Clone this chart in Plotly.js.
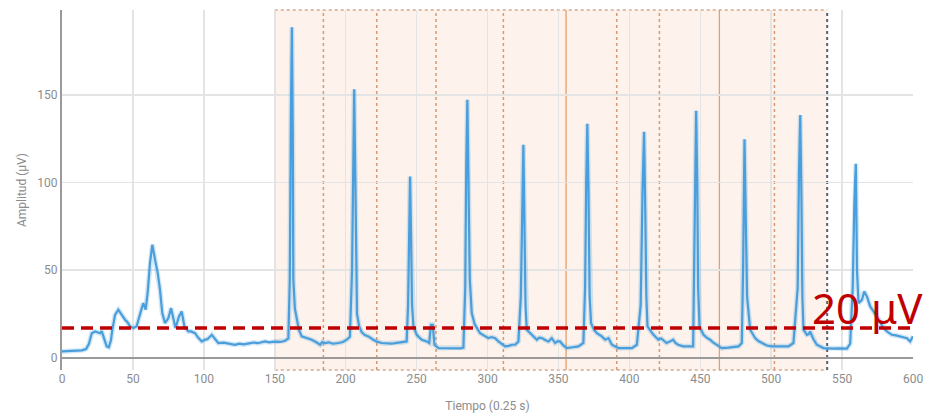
<!DOCTYPE html>
<html>
<head>
<meta charset="utf-8">
<script src="https://cdn.plot.ly/plotly-3.0.1.min.js"></script>
<style>html,body{margin:0;padding:0;background:#fff;}#chart{width:930px;height:418px;}</style>
</head>
<body>
<div id="chart"></div>
<script>
// Signal samples (Tiempo in 0.25 s units, Amplitud in µV)
const tiempo = [0,5,10,14,17,19,21,23.3,25,26.8,28,29.5,31.5,33,34.5,35.5,37.4,39.7,42,44.4,46,48,50.3,52.6,54,55.7,57.3,59,60.5,62,63.7,65.6,67.5,69.1,70.7,72.6,75,76.9,78.8,80,82.5,84.4,86.3,89.1,91,93.8,96,98.5,100.8,102.5,105.6,107.5,110.2,114,118.5,122,125,128,132,135,138,141,143.2,146,150,154,157.3,159.6,160.6,161.4,162.1,162.7,163.1,164.2,165.5,167,169,172,176,179,182,183.5,185.5,188,191,194.9,198,200.8,203,204.5,205.3,206,206.7,207.3,208,209.5,211.4,213.5,216,219.5,222,225.4,229,232.5,236,239.6,243,244,244.7,245.4,246.1,246.8,247.8,250.1,252,253.7,257.2,258.9,259.7,260.2,261.4,262.2,262.6,265.4,270,274,277.2,281,283,284.3,285,285.8,286.6,287.5,288.9,291,294.8,297.5,300.6,303,305.4,307.7,310,312.4,315,317.1,319.5,321.8,323.5,324.5,325.3,326,326.8,327.7,329.5,331.2,334.8,336.5,338.3,341,343,345.3,347.7,349.5,351.2,353.5,355.9,360,364.1,367.6,368.8,369.6,370.4,371.2,372,373,375,377.1,380.6,383,385.3,387.7,390,392.3,397,401.8,405.3,408,409.3,410.4,411.3,412,412.8,415,417,420.5,422.5,424,426.2,428.5,430.9,432.5,434.4,438,441,445,445.5,446.3,447.1,447.9,448.5,449.5,452.3,454.5,457,459,461.7,465.2,470,474,477,479.3,480.2,481.2,482,483,485.2,488.7,491,493.4,497,500.5,506,512.2,515.7,518.7,519.6,520.5,521.3,522,522.8,525.2,526.5,527.5,529.5,532.2,536.9,540,544,548,553.4,555.7,557.5,558.7,559.7,560.5,561.6,564,565.6,567.5,569.8,572.2,575.7,577.5,579.2,581.6,585.1,588,591,595.7,598,600];
const amplitud = [3.6,3.8,3.9,4.2,5,8,14,15,14.5,14,15.2,11,6.5,6,10,16,24.5,27.4,24.5,21.7,20.5,17.9,17,17.9,22,27.4,31.2,27.4,38,54,64.5,56,48.3,38.8,25.5,19.8,22.6,28.3,21.7,17,23.6,26.4,17.9,15,15,14,11.5,9.3,10.3,10.6,13.1,11,8.4,8.6,7.8,7.4,8,7.6,8.2,8.7,8.3,9,9.3,8.8,9.2,9,9.7,11,45,140,188.6,130,44.5,28,21.7,16,12.2,11.5,10.3,9,7.4,9,8.4,8.8,8,8.4,9,10.3,12,50,120,153.3,110,50,25,18,14.5,13,12.2,10.3,9.2,8.4,8.1,8,8.5,8.7,9.3,30,80,103.4,70,30,17.9,13.1,11.5,10.3,9.3,8.4,15,18.8,18.8,10,7.4,5.5,5.4,5.3,5.3,5.4,5.8,40,110,147.2,100,45,25.5,19,14,12.5,11.2,11.8,11.2,9.3,7.8,6.5,6.8,7.4,7.4,9.3,35,90,121.5,80,30,16,14.5,13.1,10.3,11.5,11.2,10,9.3,11.2,8.4,9.5,9.3,7,5.5,6,6.5,8.4,40,100,133.5,95,35,19.8,16,14,12.2,10.3,11.2,7.4,6.2,5.5,5.5,5.5,7.4,30,95,129,80,35,17.9,15,13.1,10.3,11,10,8.4,9.2,10.3,8.5,7.4,6.5,6.4,6.5,40,110,141,100,40,17.9,13.1,11.5,10.3,8.8,7.4,5.5,5.8,6.2,6.5,8.4,50,124.7,85,35,16,11.2,9.5,8.4,7,6.5,6.4,6.5,8.4,40,105,138.6,95,35,16,13.1,13.5,15,11,7.4,5.5,5.3,5.2,5.4,5.2,8,40,90,110.7,50,31.2,33,37.8,35,29.3,26.4,21.7,20,17,15,13.1,12.8,12.2,11.2,9.3,12.2];

// Annotated epoch region and markers
const regionStart = 150;
const regionEnd = 539.5;
const dottedMarks = [184.3, 221.9, 263.7, 311.2, 391.1, 421.2, 502.3];
const solidMarks = [355.4, 463.5];
const threshold = 17;
const thresholdLabel = '20 μV';

const xTicks = [0,50,100,150,200,250,300,350,400,450,500,550,600];
const yTicks = [0,50,100,150];

const shapes = [];
shapes.push({type:'rect', layer:'between', xref:'x', yref:'paper', x0:regionStart, x1:regionEnd, y0:0, y1:1,
  fillcolor:'rgba(248,220,200,0.35)', line:{width:0}});
shapes.push({type:'line', layer:'between', xref:'x', yref:'paper', x0:regionStart, x1:regionEnd, y0:1, y1:1,
  line:{color:'#d6a88c', width:1.5, dash:'dot'}});
shapes.push({type:'line', layer:'between', xref:'x', yref:'paper', x0:regionStart, x1:regionEnd, y0:0, y1:0,
  line:{color:'#d6a88c', width:1.5, dash:'dot'}});
shapes.push({type:'line', layer:'between', xref:'x', yref:'paper', x0:regionStart, x1:regionStart, y0:0, y1:1,
  line:{color:'#d6a88c', width:1.5, dash:'dot'}});
dottedMarks.forEach(v => shapes.push({type:'line', layer:'between', xref:'x', yref:'paper', x0:v, x1:v, y0:0, y1:1,
  line:{color:'#d49a74', width:1.5, dash:'dot'}}));
solidMarks.forEach(v => shapes.push({type:'line', layer:'between', xref:'x', yref:'paper', x0:v, x1:v, y0:0, y1:1,
  line:{color:'#e0a070', width:1.3}}));
shapes.push({type:'line', layer:'between', xref:'x', yref:'paper', x0:regionEnd, x1:regionEnd, y0:0, y1:1,
  line:{color:'#56616e', width:2, dash:'dot'}});
shapes.push({type:'line', layer:'above', xref:'paper', yref:'y', x0:0, x1:1, y0:threshold, y1:threshold,
  line:{color:'#c00000', width:3.5, dash:'12px,7px'}});

const data = [{
  x: tiempo, y: amplitud, type:'scatter', mode:'lines',
  line:{color:'rgba(74,158,219,0.25)', width:5}, hoverinfo:'skip', showlegend:false
},{
  x: tiempo, y: amplitud, type:'scatter', mode:'lines',
  line:{color:'#4a9edb', width:2.2}, showlegend:false
}];

const tickFont = {family:'Roboto, sans-serif', size:12, color:'#8c8c8c'};
const layout = {
  width:930, height:418,
  margin:{l:62, r:17, t:10, b:48},
  paper_bgcolor:'#ffffff', plot_bgcolor:'#ffffff',
  showlegend:false,
  xaxis:{range:[0,600], tickvals:xTicks, ticktext:xTicks.map(String), showgrid:true, gridcolor:'#e4e4e4', gridwidth:1.5,
    zeroline:false, showline:false, ticks:'', tickfont:tickFont,
    title:{text:'Tiempo (0.25 s)', font:{family:'Roboto, sans-serif', size:12, color:'#8c8c8c'}, standoff:16}},
  yaxis:{range:[-7,198.5], tickvals:yTicks, ticktext:yTicks.map(String), showgrid:true, gridcolor:'#e4e4e4', gridwidth:1.5,
    zeroline:true, zerolinecolor:'#9a9a9a', zerolinewidth:2, showline:true, linecolor:'#9a9a9a', linewidth:2,
    ticks:'', tickfont:tickFont,
    title:{text:'Amplitud (µV)', font:{family:'Roboto, sans-serif', size:12, color:'#8c8c8c'}, standoff:8}},
  shapes: shapes,
  annotations:[{xref:'paper', yref:'y', x:1.014, y:threshold, xanchor:'right', yanchor:'bottom', yshift:-10,
    text:thresholdLabel, showarrow:false, font:{family:'Noto Sans, sans-serif', size:42, color:'#c00000'}}]
};
Plotly.newPlot('chart', data, layout, {displayModeBar:false, staticPlot:true});
</script>
</body>
</html>
